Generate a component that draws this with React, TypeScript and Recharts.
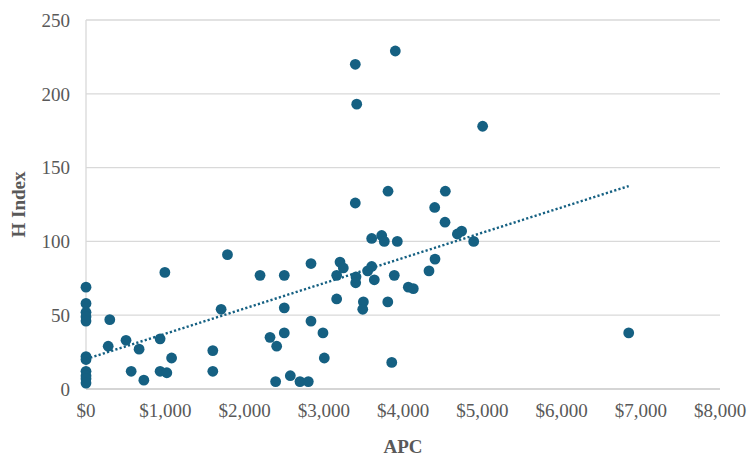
import {
  ScatterChart, Scatter, XAxis, YAxis, CartesianGrid, Label,
} from 'recharts'

// APC (USD) and H index per journal
const apc = [
  0, 0, 0, 0, 0, 0, 0, 0, 0, 0, 0,
  300, 280, 505, 670, 570, 730, 935, 995, 935, 1020, 1080, 1600, 1600, 1705, 1785,
  2196, 2502, 2502, 2502, 2322, 2406, 2393, 2578, 2700, 2805, 2839, 2839, 2990, 3007,
  3163, 3163, 3205, 3247, 3407, 3403, 3500, 3492, 3554, 3605, 3638, 3605, 3731, 3764,
  3928, 3808, 3858, 3890, 4067, 4130, 4328, 4404, 4530, 4686, 4740, 4892,
  3398, 3903, 3416, 5005, 3398, 3811, 4534, 4400, 6848,
]
const hIndex = [
  69, 58, 52, 49, 46, 22, 20, 12, 9, 7, 4,
  47, 29, 33, 27, 12, 6, 34, 79, 12, 11, 21, 26, 12, 54, 91,
  77, 77, 55, 38, 35, 29, 5, 9, 5, 5, 85, 46, 38, 21,
  77, 61, 86, 82, 76, 72, 59, 54, 80, 83, 74, 102, 104, 100,
  100, 59, 18, 77, 69, 68, 80, 88, 113, 105, 107, 100,
  220, 229, 193, 178, 126, 134, 134, 123, 38,
]

// linear trendline endpoints as drawn
const trendApc = [0, 6848]
const trendH = [20.3, 137.5]

const xTicks = [0, 1000, 2000, 3000, 4000, 5000, 6000, 7000, 8000]
const yTicks = [0, 50, 100, 150, 200, 250]

const COLOR = '#156082'
const TEXT = '#595959'
const FONT = '"Liberation Serif", "Times New Roman", serif'

const points = apc.map((x, i) => ({ x, y: hIndex[i] }))
const trend = trendApc.map((x, i) => ({ x, y: trendH[i] }))

const Dot = (p: any) => <circle cx={p.cx} cy={p.cy} r={5.4} fill={COLOR} />

export default function App() {
  return (
    <div style={{ position: 'absolute', left: 0, top: 0, background: '#fff' }}>
      <style>{`.recharts-wrapper text, .recharts-wrapper tspan { font-family: ${FONT} !important; }`}</style>
      <ScatterChart
        width={750}
        height={458}
        margin={{ top: 20, right: 30, left: 0, bottom: 0 }}
      >
        <CartesianGrid vertical={false} stroke="#d9d9d9" strokeWidth={1.3} />
        <XAxis
          type="number"
          dataKey="x"
          domain={[0, 8000]}
          ticks={xTicks}
          height={69}
          tickLine={false}
          tickSize={0}
          tickMargin={15}
          axisLine={{ stroke: '#d0d0d0', strokeWidth: 1.3 }}
          tick={{ fill: TEXT, fontSize: 19 }}
          tickFormatter={(v: number) => `$${v.toLocaleString('en-US')}`}
        >
          <Label
            content={({ viewBox }: any) => (
              <text
                x={viewBox.x + viewBox.width / 2}
                y={453}
                textAnchor="middle"
                fill={TEXT}
                fontSize={19}
                fontWeight="bold"
              >
                APC
              </text>
            )}
          />
        </XAxis>
        <YAxis
          type="number"
          dataKey="y"
          domain={[0, 250]}
          ticks={yTicks}
          width={86}
          tickLine={false}
          tickSize={0}
          tickMargin={16}
          axisLine={{ stroke: '#d9d9d9', strokeWidth: 1.3 }}
          tick={{ fill: TEXT, fontSize: 19 }}
        >
          <Label
            content={({ viewBox }: any) => {
              const cy = viewBox.y + viewBox.height / 2
              return (
                <text
                  x={25}
                  y={cy}
                  transform={`rotate(-90, 25, ${cy})`}
                  textAnchor="middle"
                  fill={TEXT}
                  fontSize={19}
                  fontWeight="bold"
                >
                  H Index
                </text>
              )
            }}
          />
        </YAxis>
        <Scatter data={points} fill={COLOR} shape={Dot} isAnimationActive={false} />
        <Scatter
          data={trend}
          line={{ stroke: COLOR, strokeWidth: 2.4, strokeDasharray: '2.2 2.2' }}
          shape={() => <g />}
          isAnimationActive={false}
        />
      </ScatterChart>
    </div>
  )
}
